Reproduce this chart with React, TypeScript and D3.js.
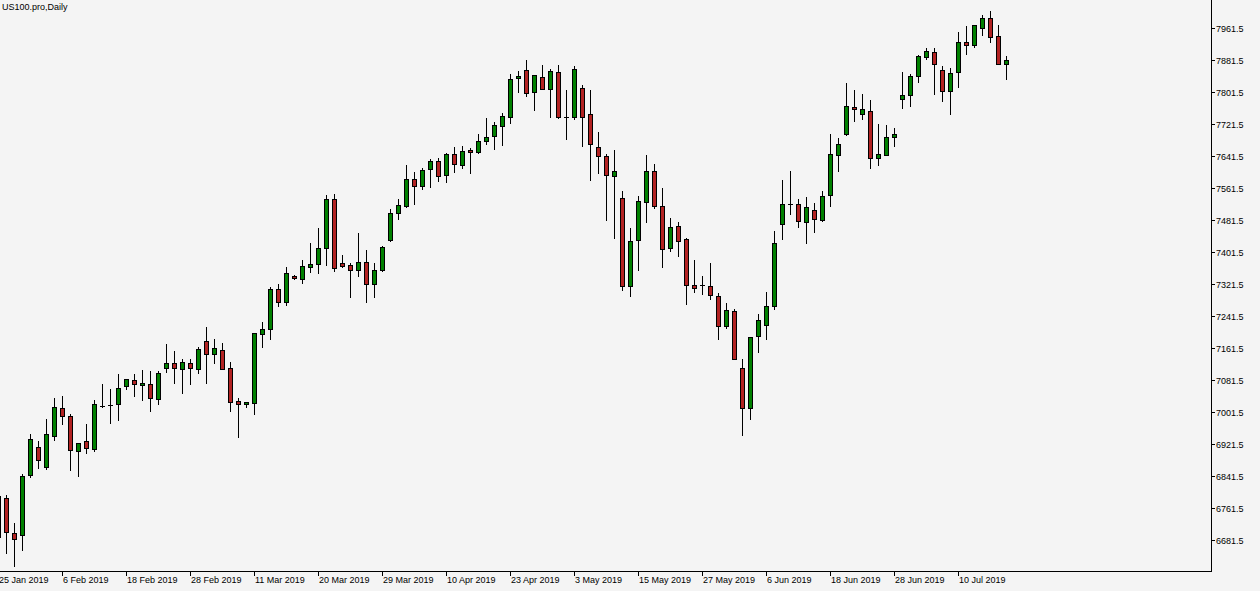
import React from "react";
import * as d3 from "d3";

const title = "US100.pro,Daily";

const opens = [6792, 6785.7, 6698, 6693.2, 6844, 6913.2, 6864.7, 6940.7, 7010.7, 6990.7,
  6903.2, 6928.2, 6909.7, 7017.2, 7019, 7020.7, 7065.7, 7080.7, 7068.2, 7070.7,
  7033.2, 7110.7, 7123.2, 7108.2, 7123.2, 7108.2, 7179, 7145.7, 7156.5, 7110.7,
  7028.2, 7022, 7023.2, 7197.2, 7208.2, 7308.2, 7275.7, 7341.5, 7334.7, 7363.2,
  7370.7, 7410.7, 7533.2, 7373.2, 7368.2, 7355.7, 7375.7, 7322.2, 7355.7, 7430.7,
  7498.2, 7517.2, 7583.2, 7565.7, 7609.7, 7628.2, 7593.2, 7645.7, 7618.2, 7656.5,
  7650.7, 7678.2, 7690.7, 7715.7, 7738.2, 7835.7, 7855.7, 7800.7, 7838.2, 7808.2,
  7850.7, 7739.7, 7739.7, 7810.7, 7745.7, 7663.2, 7640.7, 7590.7, 7535.7, 7315.7,
  7430.7, 7525.7, 7603.2, 7515.7, 7410.7, 7465.7, 7433.2, 7318.2, 7319.7, 7316.5,
  7290.7, 7215.7, 7253.2, 7110.7, 7010.7, 7190.7, 7218.2, 7265.7, 7470.7, 7520.7,
  7520.7, 7475.7, 7505.7, 7480.7, 7543.2, 7643.2, 7695.7, 7763.2, 7745.7, 7753.2,
  7635.7, 7643.2, 7688.2, 7783.2, 7793.2, 7840.7, 7888.2, 7900.7, 7855.7, 7803.2,
  7850.7, 7925.7, 7918.2, 7960.7, 7985.7, 7940.7, 7870.7];

const highs = [6794, 6794, 6723.2, 6845.7, 6946.5, 6929, 6984, 7036.5, 7042.2, 6996.5,
  6925, 6971.5, 7031.5, 7071.5, 7059, 7095.7, 7083.2, 7095.7, 7105.7, 7105,
  7104, 7171.5, 7154, 7134, 7134, 7164.7, 7213.2, 7184, 7173, 7125.7,
  7035.7, 7026, 7198.2, 7226.5, 7314.7, 7321.5, 7364.7, 7343, 7381.5, 7423.2,
  7460.7, 7543.2, 7546.5, 7394, 7374.7, 7448.2, 7406.5, 7373.2, 7416.5, 7508.2,
  7533.2, 7619, 7600.7, 7612.2, 7634.7, 7636.5, 7648.2, 7663.2, 7665.7, 7660.7,
  7696.5, 7735.7, 7726.5, 7749.7, 7846.5, 7853.2, 7881.5, 7843.2, 7869, 7858.2,
  7869, 7806.5, 7866.5, 7819, 7806.5, 7702.2, 7646.5, 7657.2, 7554, 7460.7,
  7541.5, 7644, 7621.5, 7560.7, 7485.7, 7475.7, 7435.7, 7381.5, 7341.5, 7373.2,
  7298.2, 7273.2, 7258.2, 7134, 7188.2, 7246.5, 7300.7, 7453.2, 7581.5, 7604,
  7533.2, 7538.2, 7523.2, 7553.2, 7695.7, 7685.7, 7823.2, 7805.7, 7795.7, 7780.7,
  7720.7, 7718.2, 7710.7, 7850.7, 7845.7, 7893.2, 7910.7, 7910.7, 7865.7, 7860.7,
  7950.7, 7965.7, 7968.2, 7993.2, 8003.2, 7968.2, 7890.7];

const lows = [6686, 6649.7, 6617.3, 6656.5, 6839.7, 6862.2, 6859.7, 6930.7, 6972.2, 6856.5,
  6841.5, 6898.2, 6904.7, 7013.2, 6973.2, 6981.5, 7058.2, 7040.7, 7030.7, 7004,
  7020.7, 7102.2, 7074.7, 7050, 7072.2, 7099.7, 7074.7, 7124.7, 7108.2, 7004.7,
  6939.7, 7014.7, 6996.5, 7164.7, 7184, 7266.5, 7269.7, 7333, 7323.2, 7352.2,
  7349.7, 7369, 7354.7, 7363.2, 7289.7, 7342.2, 7277.2, 7289.7, 7354, 7429,
  7484.7, 7514.7, 7522.2, 7558.2, 7563.2, 7580, 7577.2, 7602.2, 7612.2, 7599.7,
  7650, 7670.7, 7659.7, 7669.7, 7724.7, 7802.2, 7792.2, 7757.2, 7808.2, 7740,
  7737.2, 7683.2, 7734.7, 7667.2, 7582.2, 7599.7, 7482.2, 7437.2, 7305.7, 7290.7,
  7355.7, 7475.7, 7510.7, 7363.2, 7403.2, 7392.2, 7270.7, 7302.2, 7295.7, 7283.2,
  7184.7, 7210.7, 7133, 6943.2, 6983.2, 7150.7, 7183.2, 7258.2, 7433.2, 7495.7,
  7463.2, 7423.2, 7451.5, 7478.2, 7515.7, 7603.2, 7693.2, 7728.2, 7733.2, 7610.7,
  7618.2, 7643.2, 7665.7, 7760.7, 7765.7, 7825.7, 7883.2, 7797.2, 7778.2, 7745.7,
  7813.2, 7895.7, 7913.2, 7943.2, 7925.7, 7870.7, 7834.7];

const closes = [6690, 6700.7, 6683, 6840.7, 6933.2, 6880.7, 6945.7, 7013.2, 6990.7, 6905.7,
  6923.2, 6910.7, 7020.7, 7017.2, 7019, 7061.5, 7083.2, 7070.7, 7074, 7037.2,
  7098.2, 7123.2, 7112.2, 7125.7, 7110.7, 7158.2, 7145.7, 7160.7, 7109.7, 7027.2,
  7020.7, 7025.7, 7198.2, 7208.2, 7308.2, 7275.7, 7348.2, 7335.7, 7366.5, 7370.7,
  7410.7, 7533.2, 7360.7, 7367.2, 7355.7, 7375.7, 7322.2, 7355.7, 7414, 7498.2,
  7518.2, 7583.2, 7565.7, 7606.5, 7628.2, 7591.5, 7645.7, 7620.7, 7653.2, 7650.7,
  7678.2, 7688.2, 7718.2, 7740.7, 7833.2, 7840.7, 7798.2, 7843.2, 7808.2, 7853.2,
  7739.7, 7739.7, 7858.2, 7739.7, 7672.2, 7642.2, 7593.2, 7603.2, 7315.7, 7428.2,
  7528.2, 7603.2, 7515.7, 7408.2, 7463.2, 7428.2, 7318.2, 7310.7, 7319.7, 7293.2,
  7215.7, 7255.7, 7133.2, 7010.7, 7188.2, 7230.7, 7265.7, 7423.2, 7520.7, 7520.7,
  7478.2, 7513.2, 7483.2, 7540.7, 7645.7, 7670.7, 7765.7, 7758.2, 7758.2, 7635.7,
  7645.7, 7688.2, 7695.7, 7793.2, 7840.7, 7890.7, 7903.2, 7870.7, 7803.2, 7848.2,
  7925.7, 7918.2, 7968.2, 7985.7, 7938.2, 7870.7, 7880.7];

const dateTickIndex = [0, 8, 16, 24, 32, 40, 48, 56, 64, 72, 80, 88, 96, 104, 112, 120];
const dateTickLabels = ["25 Jan 2019", "6 Feb 2019", "18 Feb 2019", "28 Feb 2019", "11 Mar 2019",
  "20 Mar 2019", "29 Mar 2019", "10 Apr 2019", "23 Apr 2019", "3 May 2019", "15 May 2019",
  "27 May 2019", "6 Jun 2019", "18 Jun 2019", "28 Jun 2019", "10 Jul 2019"];

const priceTicks = [7961.5, 7881.5, 7801.5, 7721.5, 7641.5, 7561.5, 7481.5, 7401.5, 7321.5,
  7241.5, 7161.5, 7081.5, 7001.5, 6921.5, 6841.5, 6761.5, 6681.5];

const W = 1260;
const H = 591;
const plotRight = 1211;
const plotBottom = 571;
const BG = "#f4f4f4";
const UP = "#008000";
const DOWN = "#b22222";
const FONT = "'Liberation Sans', Arial, sans-serif";

export default function App() {
  const x = d3.scaleLinear().domain([0, 126]).range([-2, 1006]);
  const y = d3.scaleLinear().domain([6681.5, 7961.5]).range([540, 28]);
  const py = (v: number) => Math.round(y(v));

  const candles = opens.map((o, i) => {
    const c = closes[i];
    const hi = highs[i];
    const lo = lows[i];
    const cx = Math.round(x(i));
    const yo = py(o);
    const yc = py(c);
    const top = Math.min(yo, yc);
    const bot = Math.max(yo, yc);
    const up = c >= o;
    return (
      <g key={i}>
        <line x1={cx + 0.5} x2={cx + 0.5} y1={py(hi)} y2={py(lo) + 1} stroke="#000" strokeWidth={1} />
        {bot - top < 1 ? (
          <line x1={cx - 2} x2={cx + 3} y1={top + 0.5} y2={top + 0.5} stroke="#000" strokeWidth={1} />
        ) : (
          <rect x={cx - 1.5} y={top + 0.5} width={4} height={bot - top}
            fill={up ? UP : DOWN} stroke="#000" strokeWidth={1} />
        )}
      </g>
    );
  });

  return (
    <svg width={W} height={H} style={{ position: "absolute", left: 0, top: 0, display: "block" }}
      xmlns="http://www.w3.org/2000/svg">
      <rect x={0} y={0} width={W} height={H} fill={BG} />
      <defs>
        <clipPath id="plotClip">
          <rect x={0} y={0} width={plotRight} height={plotBottom} />
        </clipPath>
      </defs>
      <g clipPath="url(#plotClip)">{candles}</g>
      <text x={2} y={10} fontFamily={FONT} fontSize={9} fill="#000">{title}</text>
      <line x1={plotRight + 0.5} x2={plotRight + 0.5} y1={0} y2={plotBottom + 1} stroke="#000" />
      <line x1={0} x2={plotRight + 1} y1={plotBottom + 0.5} y2={plotBottom + 0.5} stroke="#000" />
      {priceTicks.map((t) => {
        const ty = py(t);
        return (
          <g key={t}>
            <line x1={plotRight} x2={plotRight + 4} y1={ty + 0.5} y2={ty + 0.5} stroke="#000" />
            <text x={plotRight + 5} y={ty + 3.5} fontFamily={FONT} fontSize={9} fill="#000">
              {t.toFixed(1)}
            </text>
          </g>
        );
      })}
      {dateTickIndex.map((idx, k) => {
        const tx = Math.round(x(idx));
        return (
          <g key={idx}>
            <line x1={tx + 0.5} x2={tx + 0.5} y1={plotBottom} y2={plotBottom + 5} stroke="#000" />
            <text x={tx + 1} y={583} fontFamily={FONT} fontSize={9} fill="#000">
              {dateTickLabels[k]}
            </text>
          </g>
        );
      })}
    </svg>
  );
}
